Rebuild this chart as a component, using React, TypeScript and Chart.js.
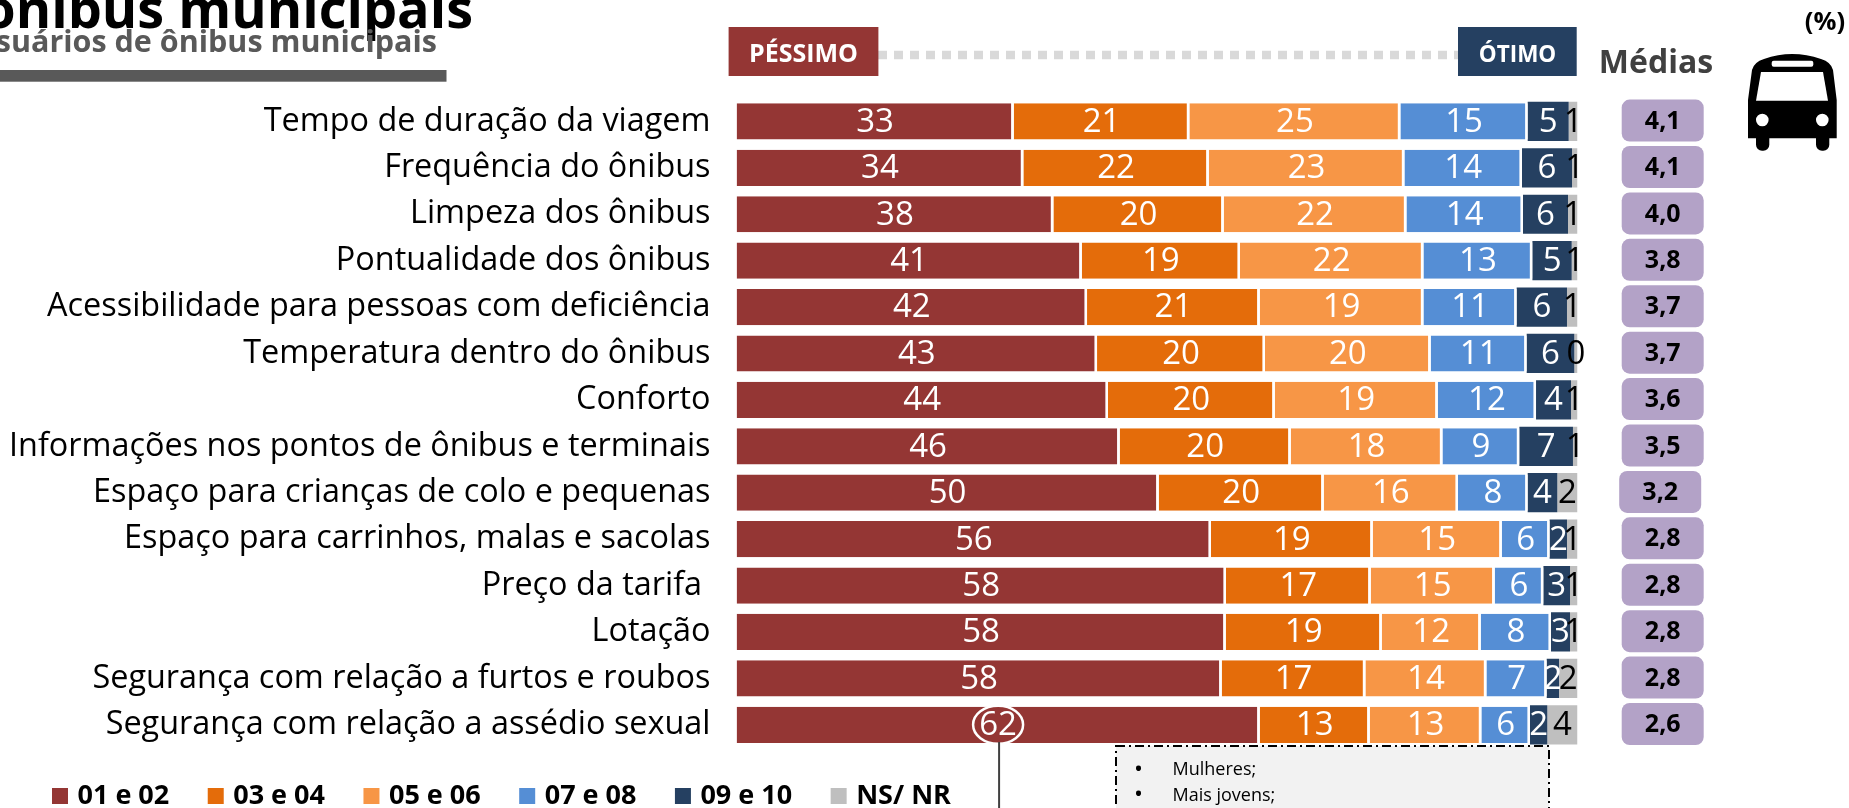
import React, { useEffect, useRef } from "react";
import { Chart, registerables } from "chart.js";

Chart.register(...registerables);

const FONT = '"Open Sans", sans-serif';

const categories = [
  "Tempo de duração da viagem",
  "Frequência do ônibus",
  "Limpeza dos ônibus",
  "Pontualidade dos ônibus",
  "Acessibilidade para pessoas com deficiência",
  "Temperatura dentro do ônibus",
  "Conforto",
  "Informações nos pontos de ônibus e terminais",
  "Espaço para crianças de colo e pequenas",
  "Espaço para carrinhos, malas e sacolas",
  "Preço da tarifa ",
  "Lotação",
  "Segurança com relação a furtos e roubos",
  "Segurança com relação a assédio sexual",
];

const legendNames = ["01 e 02", "03 e 04", "05 e 06", "07 e 08", "09 e 10", "NS/ NR"];
const colors = ["#943634", "#E46C0A", "#F79646", "#558ED5", "#254061", "#BFBFBF"];

// widths
const v0102 = [32.96, 34.11, 37.68, 41.05, 41.68, 42.87, 44.17, 45.56, 50.2, 56.42, 58.2, 58.17, 57.69, 62.21];
const v0304 = [20.89, 22.04, 20.25, 18.82, 20.53, 19.97, 19.83, 20.34, 19.62, 19.23, 17.21, 18.55, 17.09, 13.08];
const v0506 = [25.09, 23.27, 21.73, 21.81, 19.47, 19.7, 19.38, 18.04, 15.97, 15.34, 14.74, 11.77, 14.39, 13.28];
const v0708 = [15.14, 13.98, 13.86, 12.96, 11.09, 11.42, 11.69, 9.15, 8.29, 5.7, 5.8, 8.36, 7.17, 5.78];
const v0910 = [4.87, 5.95, 5.35, 4.67, 5.98, 5.66, 4.16, 6.37, 3.52, 2.06, 3.16, 2.26, 1.46, 2.06];
const vNsNr = [1.05, 0.65, 1.13, 0.69, 1.25, 0.38, 0.77, 0.54, 2.4, 1.25, 0.89, 0.89, 2.2, 3.59];

// printed labels
const l0102 = [33, 34, 38, 41, 42, 43, 44, 46, 50, 56, 58, 58, 58, 62];
const l0304 = [21, 22, 20, 19, 21, 20, 20, 20, 20, 19, 17, 19, 17, 13];
const l0506 = [25, 23, 22, 22, 19, 20, 19, 18, 16, 15, 15, 12, 14, 13];
const l0708 = [15, 14, 14, 13, 11, 11, 12, 9, 8, 6, 6, 8, 7, 6];
const l0910 = [5, 6, 6, 5, 6, 6, 4, 7, 4, 2, 3, 3, 2, 2];
const lNsNr = [1, 1, 1, 1, 1, 0, 1, 1, 2, 1, 1, 1, 2, 4];

const medias = ["4,1", "4,1", "4,0", "3,8", "3,7", "3,7", "3,6", "3,5", "3,2", "2,8", "2,8", "2,8", "2,8", "2,6"];
const calloutLines = ["Mulheres;", "Mais jovens;"];

const seriesValues = [v0102, v0304, v0506, v0708, v0910, vNsNr];
const seriesLabels = [l0102, l0304, l0506, l0708, l0910, lNsNr];

function roundRect(ctx: CanvasRenderingContext2D, x: number, y: number, w: number, h: number, r: number) {
  ctx.beginPath();
  ctx.roundRect(x, y, w, h, r);
}

const layoutPlugin = {
  id: "legendPlace",
  beforeDraw(chart: any) {
    chart.legend.top = 740;
    chart.legend.left = 13.5;
  },
};

const labelPlugin = {
  id: "segmentLabels",
  afterDatasetsDraw(chart: any) {
    const ctx = chart.ctx;
    ctx.save();
    ctx.font = `33px ${FONT}`;
    ctx.textAlign = "center";
    ctx.textBaseline = "middle";
    seriesLabels.forEach((labels, s) => {
      const meta = chart.getDatasetMeta(s);
      meta.data.forEach((bar: any, i: number) => {
        ctx.fillStyle = s === 5 ? "#000000" : "#FFFFFF";
        const cx = s === 5 ? bar.x - (bar.x - bar.base) / 2 : bar.base + (bar.x - bar.base) / 2;
        ctx.fillText(String(labels[i]), cx, bar.y + 1);
      });
    });
    // highlight round the last value of the first series
    const last = chart.getDatasetMeta(0).data[13];
    const hx = (last.x + last.base) / 2;
    ctx.strokeStyle = "#FFFFFF";
    ctx.lineWidth = 2.5;
    ctx.beginPath();
    ctx.ellipse(hx, last.y, 25, 19, 0, 0, Math.PI * 2);
    ctx.stroke();
    ctx.restore();
  },
};

const decorPlugin = {
  id: "decor",
  afterDraw(chart: any) {
    const ctx: CanvasRenderingContext2D = chart.ctx;
    const y = chart.scales.y;
    ctx.save();
    ctx.textBaseline = "alphabetic";

    // title
    ctx.textAlign = "right";
    ctx.fillStyle = "#000000";
    ctx.font = `bold 54px ${FONT}`;
    ctx.fillText("ônibus municipais", 473, 28);
    ctx.fillStyle = "#595959";
    ctx.font = `bold 30.5px ${FONT}`;
    ctx.fillText("suários de ônibus municipais", 437, 52);
    ctx.fillRect(0, 70, 446.5, 11.7);

    // scale strip
    ctx.strokeStyle = "#D9D9D9";
    ctx.lineWidth = 8.5;
    ctx.setLineDash([9, 7]);
    ctx.beginPath();
    ctx.moveTo(878, 55);
    ctx.lineTo(1458, 55);
    ctx.stroke();
    ctx.setLineDash([]);
    ctx.fillStyle = colors[0];
    ctx.fillRect(728.6, 27, 149.8, 49);
    ctx.fillStyle = colors[4];
    ctx.fillRect(1458, 27, 118.7, 49);
    ctx.fillStyle = "#FFFFFF";
    ctx.textAlign = "center";
    ctx.font = `bold 25px ${FONT}`;
    ctx.fillText("PÉSSIMO", 803.5, 62);
    ctx.font = `bold 22.5px ${FONT}`;
    ctx.fillText("ÓTIMO", 1517.5, 62);

    // Médias column
    ctx.fillStyle = "#404040";
    ctx.font = `bold 32px ${FONT}`;
    ctx.fillText("Médias", 1656, 73);
    ctx.fillStyle = "#000000";
    ctx.font = `bold 25.5px ${FONT}`;
    ctx.fillText("(%)", 1825, 30);

    ctx.textBaseline = "middle";
    medias.forEach((m, i) => {
      const cy = y.getPixelForValue(i) - 0.8;
      const cx = i === 8 ? 1660.2 : 1662.7;
      ctx.fillStyle = "#B3A2C7";
      roundRect(ctx, cx - 41, cy - 21, 82, 42, 8);
      ctx.fill();
      ctx.fillStyle = "#000000";
      ctx.font = `bold 25px ${FONT}`;
      ctx.fillText(m, cx, cy + 1);
    });

    // bus icon
    ctx.fillStyle = "#000000";
    ctx.beginPath();
    ctx.moveTo(1748, 138.3);
    ctx.lineTo(1748, 100);
    ctx.lineTo(1752, 70);
    ctx.quadraticCurveTo(1754, 62, 1764, 59);
    ctx.quadraticCurveTo(1792, 49, 1821, 59);
    ctx.quadraticCurveTo(1831, 62, 1833, 70);
    ctx.lineTo(1836.7, 100);
    ctx.lineTo(1836.7, 138.3);
    ctx.closePath();
    ctx.fill();
    roundRect(ctx, 1756, 130, 13.3, 20.7, 6);
    ctx.fill();
    roundRect(ctx, 1816, 130, 13.3, 20.7, 6);
    ctx.fill();
    ctx.fillStyle = "#FFFFFF";
    ctx.beginPath();
    ctx.moveTo(1761, 72);
    ctx.lineTo(1823, 72);
    ctx.lineTo(1828, 100.7);
    ctx.lineTo(1756, 100.7);
    ctx.closePath();
    ctx.fill();
    roundRect(ctx, 1771.7, 60.7, 41.6, 6, 2);
    ctx.fill();
    ctx.beginPath();
    ctx.arc(1762.3, 120, 6.3, 0, Math.PI * 2);
    ctx.arc(1822.3, 120, 6.3, 0, Math.PI * 2);
    ctx.fill();

    // leader line and callout
    const last = chart.getDatasetMeta(0).data[13];
    ctx.strokeStyle = "#404040";
    ctx.lineWidth = 2;
    ctx.beginPath();
    ctx.moveTo((last.x + last.base) / 2 + 1, 742);
    ctx.lineTo((last.x + last.base) / 2 + 1, 808);
    ctx.stroke();

    ctx.fillStyle = "#F2F2F2";
    ctx.fillRect(1116, 746, 433, 90);
    ctx.strokeStyle = "#000000";
    ctx.setLineDash([9, 4, 2, 4]);
    ctx.strokeRect(1116, 746, 433, 90);
    ctx.setLineDash([]);
    ctx.textAlign = "left";
    ctx.fillStyle = "#000000";
    calloutLines.forEach((t, i) => {
      const ly = 770 + i * 25.5;
      ctx.font = `24px ${FONT}`;
      ctx.fillText("•", 1134, ly);
      ctx.font = `18px ${FONT}`;
      ctx.fillText(t, 1172.5, ly);
    });
    ctx.restore();
  },
};

export default function App() {
  const ref = useRef<HTMLCanvasElement>(null);
  useEffect(() => {
    const chart = new Chart(ref.current!, {
      type: "bar",
      data: {
        labels: categories,
        datasets: legendNames.map((name, s) => ({
          label: name,
          data: seriesValues[s],
          backgroundColor: colors[s],
          borderColor: "#FFFFFF",
          borderWidth: s < 4 ? { right: 2.6 } : 0,
          borderSkipped: false,
          barPercentage: s < 4 ? 0.78 : 0.845,
          categoryPercentage: 1,
          stack: "a",
        })),
      },
      options: {
        indexAxis: "y",
        responsive: false,
        animation: false,
        layout: { padding: { left: 0, right: 271.5, top: 98.2, bottom: -19.5 } },
        scales: {
          x: { display: false, stacked: true, min: 0, max: 100 },
          y: {
            stacked: true,
            grid: { display: false, drawTicks: false },
            border: { display: false },
            afterFit: (s: any) => {
              s.width = 736.5;
            },
            ticks: {
              autoSkip: false,
              padding: 26,
              color: "#000000",
              font: { family: FONT, size: 32.4 },
            },
          },
        },
        plugins: {
          tooltip: { enabled: false },
          title: { display: false },
          legend: {
            position: "bottom",
            align: "start",
            labels: {
              boxWidth: 8,
              boxHeight: 8,
              padding: 42.5,
              color: "#000000",
              font: { family: FONT, size: 27, weight: "bold" },
              generateLabels: (c: any) =>
                Chart.defaults.plugins.legend.labels.generateLabels(c).map((it: any) => ({
                  ...it,
                  lineWidth: 8,
                  strokeStyle: it.fillStyle,
                })),
            },
          },
        },
      },
      plugins: [layoutPlugin, labelPlugin, decorPlugin],
    } as any);
    return () => chart.destroy();
  }, []);
  return (
    <canvas
      ref={ref}
      width={1849}
      height={808}
      style={{ position: "fixed", left: 0, top: 0, display: "block", width: 1849, height: 808 }}
    />
  );
}
